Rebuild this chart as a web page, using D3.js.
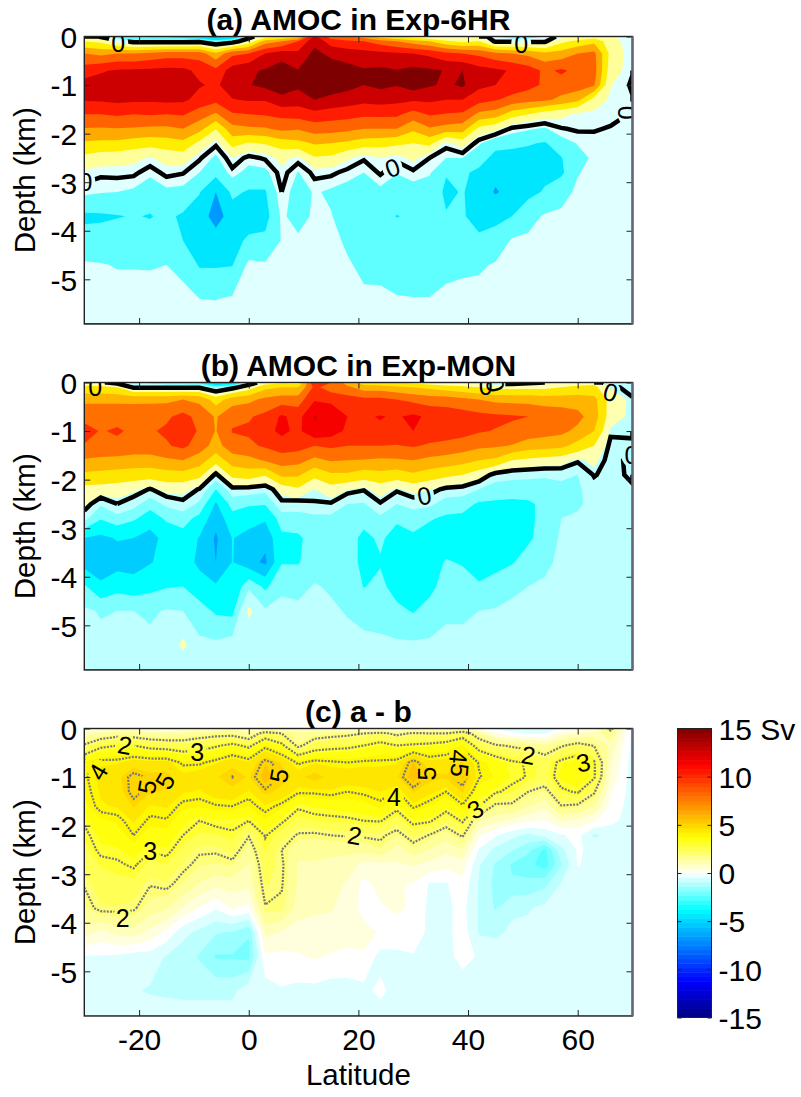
<!DOCTYPE html>
<html>
<head>
<meta charset="utf-8">
<script src="https://cdn.jsdelivr.net/npm/d3@7"></script>
<style>
  html, body { margin: 0; padding: 0; background: #fff; }
  text { font-family: "Liberation Sans", Arial, sans-serif; fill: #000; }
</style>
</head>
<body>
<div id="chart"></div>
<script>
// grid of the overturning streamfunction, one inner array per latitude column
var lats = [-30,-27,-24,-21,-18,-15,-12,-9,-6,-3,0,3,6,9,12,15,18,21,24,27,30,33,36,39,42,45,48,51,54,57,60,63,66,70];
var depths = [0,0.1,0.35,0.7,1,1.3,1.6,1.9,2.2,2.5,2.8,3.2,3.7,4.2,4.7,5.4,5.9];

var amoc6hr = [
  [2,3,7,10,11.8,11.2,9,6.9,4.7,2.5,.7,-.6,-3.4,-2.2,-.8,-.3,-.1],
  [-.3,2.5,6.5,10.8,11.8,11.3,9,6.8,4.5,2,.3,-.9,-3.3,-2.2,-.9,-.4,-.1],
  [-2,.5,7,11.2,12,11.5,9.3,6.9,4.5,1.8,.4,-1,-3.1,-2.1,-1.1,-.4,-.1],
  [-3,-.6,7,11.3,12.2,11.4,9,6.8,4,1.5,.3,-1.3,-2.9,-2,-1.1,-.4,-.1],
  [-3.5,-.6,7.5,11.4,12,11.3,9.2,6.6,3.8,.8,-.6,-2.2,-3.1,-2.2,-1.1,-.5,-.2],
  [-3.5,-.6,8,11.6,12.2,11.5,9,6.6,4,1.7,.4,-1.4,-2.6,-1.9,-1,-.5,-.2],
  [-4,-.6,8,11.5,12.1,11.4,9.2,7,4.4,2,.1,-1.5,-3.3,-3,-1.5,-.5,-.3],
  [-5,-.4,8,10.5,11.2,10.3,8,5.7,2.5,.2,-1,-2.9,-3.8,-3.6,-3.2,-1,-.3],
  [-6,-2,5.5,9.5,10.6,9.6,6.7,3.1,.3,-1.4,-2.4,-5,-6,-3.9,-3.2,-1.05,-.4],
  [-5,-1,8.5,12,12.3,10.9,8.8,6.3,3.8,.9,-.4,-2.6,-3.9,-3.6,-3.1,-.8,-.3],
  [-1,1.5,9,12.7,12.9,11.2,9,6.7,2.8,-.4,-1.6,-3.2,-3.9,-2.7,-.6,-.2,-.1],
  [2,6,11,13.2,13.5,11.2,9.2,6.8,3.2,.2,-1.5,-3.2,-3.8,-2.5,-.8,-.3,-.1],
  [3,7,12,14.1,14.2,12.4,9.6,7.5,4,1.5,.6,0,-.7,-.9,-.5,-.3,-.1],
  [4,9,11.5,13.1,13.4,12,9.8,7.2,4.4,.6,-1.1,-2,-1.7,-.7,-.4,-.2,-.1],
  [11.5,12.5,13.5,14.5,14.6,13,10.4,7.9,5.2,2.8,.4,-.8,-.7,-.5,-.3,-.2,-.1],
  [8,10,12.5,14.2,14.2,12.4,10,7.8,5,2.6,.3,-1.3,-.9,-.5,-.3,-.2,-.1],
  [7,9.5,12,13.8,13.7,12,9.8,7.5,4.6,1.3,-.4,-1.7,-1.9,-1.3,-.8,-.4,-.1],
  [6,9,11.7,13.2,13,11.6,9.4,7,4,.2,-1,-2.1,-2.3,-1.9,-1.4,-.7,-.2],
  [4,8,11.5,13.4,13.5,11.8,9.5,7,3.8,1,.2,-1.5,-2.5,-2.1,-1.6,-.6,-.2],
  [3,7,11.3,13.1,13.1,11.6,9.4,7,3.5,.3,-.9,-2.2,-3.05,-2.3,-1.8,-.9,-.3],
  [2,6,11,13.5,14,11.3,8.2,5.4,3,1.5,-.3,-1.8,-2.8,-2.4,-1.9,-.95,-.3],
  [1,5,10.5,13.3,13.2,11.4,9.2,6.8,3.6,0,-.8,-2,-2.7,-2.3,-1.9,-.95,-.3],
  [0,3.5,9.5,12.9,12.7,11,8.9,6.3,.5,-1,-2.9,-3.3,-2.9,-2.1,-1.5,-.6,-.2],
  [.5,2.5,9,13,13.3,11,8.7,5.9,2,-1,-2.7,-2.9,-2.9,-2.1,-1.4,-.4,-.2],
  [1,3,8.5,11.8,11.5,9.8,6.5,2.5,-.8,-2.2,-3.4,-3.7,-3.4,-2.8,-1.3,-.3,-.2],
  [-1,-.3,7.5,11.4,11,9.2,6,1.5,-2.4,-3.6,-4.4,-5.2,-3.4,-2.4,-.8,-.4,-.2],
  [-1.5,-.3,7,10.8,10.3,8.3,4,-.3,-2.5,-3.8,-4.3,-4.3,-3,-.8,-.5,-.3,-.1],
  [-1.5,-.3,6.5,10,9.6,7.8,3,-.8,-2.8,-3.9,-4,-3.6,-1.6,-.7,-.4,-.2,-.1],
  [-1,-.3,5.5,8.6,8.7,7.4,2,-1.2,-3.2,-3.8,-3.5,-2.8,-.8,-.5,-.3,-.2,-.1],
  [.5,2.5,5.8,9.3,8.2,6.5,1.5,-.1,-1.8,-3.1,-3.4,-1.6,-.7,-.4,-.2,-.1,-.1],
  [1.5,3.5,7,8.5,8,5.5,.7,.2,-.9,-1.6,-1.1,-.7,-.4,-.3,-.2,-.1,-.1],
  [2,4.5,7.5,7.8,7.2,2.2,.6,.1,-.4,-.7,-.5,-.4,-.3,-.2,-.1,-.1,-.1],
  [1.2,1.8,2.4,2,1.1,.7,.4,-.1,-.2,-.3,-.3,-.2,-.2,-.1,-.1,-.1,-.1],
  [.1,.1,.1,.1,-.2,.1,-.1,.3,-.2,-.1,-.1,-.1,-.1,-.1,-.1,-.1,-.1]
];

var amocMon = [
  [1,2.5,5.5,7.5,8.6,7.9,5.8,3.6,1.4,.7,-.8,-4,-4.6,-2.3,-1,-.9,-.8],
  [.3,2.5,5.5,7.5,7.9,7.4,5.6,3.4,1.3,-1,-2.4,-4.3,-4.9,-3.7,-1.3,-.9,-.8],
  [-.5,2,5.5,7.5,8.2,7.6,5.4,3.2,1.1,0,-1.7,-3.9,-4.6,-3,-1.2,-.9,-.8],
  [-1,-.2,5.5,7.4,7.7,7.2,5.2,3,.7,-.7,-2.3,-4,-4.7,-3.3,-1.2,-.9,-.8],
  [-1.5,-.2,5.5,7.5,7.8,7.2,5.2,2.9,-.1,-2,-3.2,-4.6,-4.1,-2.9,-1.4,-.9,-.8],
  [-2,-.2,5.5,7.7,8.3,7.8,5.7,3.2,.9,-.9,-2.3,-3.4,-3.5,-2.6,-1.1,-.9,-.8],
  [-2,-.2,6,8.6,9,8.5,6,3.3,.8,-.3,-2,-3,-3.1,-2.5,-1.2,.8,-.8],
  [-3,-.2,5.5,7.4,7.8,7,5,2.6,-.1,-1.5,-2.9,-4.1,-4.4,-3.2,-2,-.9,-.8],
  [-6,-1.5,3,5.8,5.9,5.2,2.8,-.3,-2.5,-4.2,-5,-5.7,-5.5,-3.8,-2.7,-.95,-.8],
  [-5,-.5,5,7.6,8.1,7.2,5,2.6,-.4,-2,-3,-3.95,-3.95,-3.8,-2.9,-.6,-.8],
  [-1,1,5.5,7.8,8.3,7.6,5.4,3,-.5,-2.3,-3.5,-4.4,-4.9,-1.5,.8,-.9,-.8],
  [1,3.5,6.5,8.5,9.3,8.3,6.2,2.2,-.8,-2.4,-3.8,-5,-5.8,-2.8,-1,-.9,-.8],
  [1.5,4,7,10.3,10.5,9,7,4.5,.9,-.3,-1.9,-2.8,-2.6,-1.4,-.9,-.9,-.8],
  [1,4,7,9.3,9.5,8.8,6.7,4.3,1.7,-.5,-1.8,-2.7,-2.6,-1.6,-.9,-.8,-.7],
  [10.2,8.5,9.8,12.1,11.8,8,5.5,2.5,.4,-.1,-1.6,-2,-1.8,-1.1,-.8,-.8,-.7],
  [8,7,9.5,11.5,11,8.4,6.2,3.7,1.2,-.1,-1.6,-2,-1.9,-1.35,-1,-.8,-.7],
  [5,6.5,8.8,10,9.6,8,6,3.7,.5,-1.2,-1.8,-2,-2,-1.7,-1.3,-.8,-.7],
  [3,5,8.5,9.8,9.6,8,5.9,3,.1,-1.3,-2.1,-2.8,-2.8,-2.55,-1.6,-.9,-.7],
  [2.5,5,8.5,10.1,9.7,8,5.7,3.4,1,-.1,-1.5,-2.3,-2.6,-2.2,-1.8,-.9,-.7],
  [2,4.5,8,9.8,9.5,7.9,5.8,3,.2,-1.2,-2.3,-3,-3.1,-3,-2.2,-1,-.7],
  [1.5,4,7.5,10.4,10,8.2,6,3.7,.9,-.7,-2,-2.7,-3.1,-3.1,-2.6,-1,-.7],
  [1,3.5,7,9.6,9.3,7.7,5.5,3,.5,-.9,-2.4,-3,-3,-2.9,-2,-1,-.7],
  [.5,3,7,9.3,9.1,7.4,5.2,2.5,-.3,-1.9,-2.7,-3.1,-2.4,-1.9,-1.4,-.9,-.7],
  [.2,2.5,6.5,9,8.8,7,4.8,2,-.5,-2,-2.8,-3,-2.6,-2,-1.4,-.9,-.7],
  [0,2,6,8.6,8.2,6.5,4,1,-1.2,-2.7,-3,-3,-2.9,-2.4,-1.2,-.9,-.7],
  [-.8,1.5,5.5,8.4,7.9,6.3,3.6,-.5,-1.9,-2.7,-3,-3,-2.9,-2,-1.1,-.9,-.7],
  [-.6,1.5,5.4,8.2,7.6,5.9,2,-.8,-1.9,-2.8,-3,-3,-2.6,-1.5,-.9,-.8,-.7],
  [-.3,1.5,5.3,8,7.2,5,1.6,-.9,-1.9,-2.7,-2.7,-2.7,-2,-1.2,-.9,-.8,-.7],
  [0,1.5,5,7.5,6.8,4.8,1.3,-1,-1.9,-2.2,-2.2,-2,-1.5,-1,-.8,-.8,-.7],
  [.5,2,5,7.2,6.5,4.5,1,-.8,-1.7,-1.9,-1.2,-1,-.9,-.8,-.8,-.8,-.7],
  [1,2.5,5,6.6,5.5,3.3,.2,-1.2,-1.4,-1.4,-1,-.9,-.8,-.8,-.8,-.8,-.7],
  [1.5,2.5,4.6,5,4,2,.7,.1,-.6,-.8,-.8,-.8,-.8,-.8,-.8,-.8,-.7],
  [-1.5,.3,1.2,1,.2,-.3,-.4,-.5,-.7,-.8,-.8,-.8,-.8,-.8,-.8,-.8,-.7],
  [-1.5,-.4,.1,.1,.1,-.1,.3,.3,-.2,-.7,-.8,-.8,-.8,-.8,-.8,-.8,-.7]
];

var amocDiff = [
  [.3,1,2.1,3.8,3.9,3.8,3.6,3.1,2.8,2.6,2.4,2.05,1.7,1,-.3,-.5,-.5],
  [.4,1.3,2.8,4.2,4.4,4.3,4.2,3.7,3.4,3.15,2.8,2.5,2.2,.6,-.3,-.6,-.5],
  [.5,1.6,3,4.2,4.6,4.5,4.3,3.8,3.5,3.2,2.9,2.6,2.2,.9,-.35,-.6,-.5],
  [.4,1.5,3,4.5,5.2,5.2,4.8,4.3,4,3.5,3.1,2.6,2.1,1,-.5,-.7,-.5],
  [.4,1.3,2.7,4.4,4.9,4.8,4.2,3.9,3.5,3.05,2.6,2.05,1.5,.6,-.5,-.8,-.5],
  [.4,1.2,2.6,4.4,4.95,4.7,4.3,3.95,3.6,3.2,2.75,2.2,1.3,.1,-.8,-.85,-.5],
  [.5,1.3,2.5,3.9,4.4,4.3,3.85,3.4,3,2.6,2.2,1.7,.7,-.6,-1,-.9,-.5],
  [.6,1.6,2.6,3.9,4.6,4.2,3.8,3,2.7,2.1,1.8,1.2,.2,-.9,-1.3,-.9,-.5],
  [.7,1.7,2.9,4.2,4.7,4.5,3.95,3.2,2.7,2.1,1.7,.9,-.2,-1.2,-1.8,-.9,-.5],
  [1.2,1.7,3.2,4.6,5.02,4.6,4,3.2,2.9,2.4,1.8,1,.3,-1.3,-1.8,-.9,-.5],
  [.5,1.3,2.8,4.3,4.7,4.2,3.8,3,2.05,1.5,1.2,.9,.1,-1.7,-1.9,-.4,-.5],
  [.8,2.4,3.8,5.2,5.5,4.9,4.2,3.7,3.05,2.8,2.5,2.3,1.95,.9,.15,-.5,-.5],
  [.7,2,3.2,4.7,4.95,4.6,3.85,3.1,2.5,2,2.1,2.05,1.9,.7,.1,-.3,-.5],
  [.6,1.5,1.8,3.9,4.6,4.1,3.1,2.6,1.9,1.4,1.2,1.2,1,.5,.2,-.4,-.5],
  [.5,1.6,2.5,4.2,4.98,4.1,3.3,2.75,1.85,1.4,1.2,1.1,.9,.4,.3,-.4,-.5],
  [.4,1.7,2.7,4.1,4.6,4.2,3.4,2.8,2,1.4,1.1,.9,.8,.5,.2,-.5,-.5],
  [.4,1.8,2.8,4,4.6,4,3.5,2.85,2.05,1.4,1,.7,.5,.4,.15,-.5,-.5],
  [.5,2,3,4.1,4.6,4.1,3.6,3,2.1,1.4,.6,.1,.1,.4,.2,-.4,-.5],
  [.6,2.2,3.3,4.1,4.6,4.25,3.85,3.05,2.15,1.7,.6,.4,.2,.2,-.45,-.1,-.5],
  [.5,1.8,3,4.2,4.7,3.95,3.2,2.5,1.7,1,.7,.3,.3,.1,-.4,-.5,-.5],
  [.7,2.1,3.1,5.3,5.5,4.8,4.1,3.2,2.4,1.6,.8,.2,.2,.1,-.3,-.5,-.5],
  [.8,2,3.2,4.4,4.9,4.4,3.75,3.1,1.95,1.2,.6,-.3,-.4,-.4,-.4,-.5,-.5],
  [.7,2,3.4,4.5,4.8,4,3.35,2.4,1.5,.9,.4,-.3,-.35,-.4,-.4,-.5,-.5],
  [1,2.5,3.8,4.8,5.3,4.8,3.9,3.1,2.1,1.2,.5,.1,-.1,0,-.1,-.5,-.5],
  [.1,1.5,2.6,3.95,4.05,3.5,3,1.3,.3,-.3,-.7,-.8,-.8,-.8,-.3,-.5,-.5],
  [-.3,.3,2.1,3.5,3.7,3.1,1.8,.9,-.2,-.9,-1.3,-1.4,-1.3,-.8,-.6,-.5,-.5],
  [-.6,-.1,1.9,3.1,3.2,2.8,1.8,.6,-.6,-1.2,-1.8,-1.7,-.8,-.7,-.5,-.5,-.5],
  [-.8,-.3,1.7,2.95,2.95,2,1.3,.3,-.9,-1.6,-2.1,-1.6,-.8,-.6,-.5,-.5,-.5],
  [-.8,-.3,1.4,2.5,2.5,1.7,.9,.2,-.6,-2.4,-2.5,-1.4,-.6,-.5,-.5,-.5,-.5],
  [-.2,.5,1.9,3.2,3.4,2.85,1.95,.8,-.3,-.9,-1.3,-.7,-.5,-.5,-.5,-.5,-.5],
  [0,.8,2.3,3.5,3.6,3.1,1.85,.6,-.1,-.2,-.2,-.5,-.5,-.5,-.5,-.5,-.5],
  [.3,1,1.95,3.1,3.1,2.1,1.3,.3,-.85,-.35,-.5,-.5,-.5,-.5,-.5,-.5,-.5],
  [2.3,1.6,1.1,.8,.6,.3,.1,-.1,-.6,-.4,-.5,-.5,-.5,-.5,-.5,-.5,-.5],
  [-.4,-.4,-.4,-.5,-.5,-.5,-.5,-.5,-.5,-.5,-.5,-.5,-.5,-.5,-.5,-.5,-.5]
];

// filled levels of each panel and the value each band takes its colour from
var levels6hr = [-7,-5,-3,-1,1,3,5,7,9,11,13];
var bandValues6hr = [-8,-6.75,-4.5,-2.35,-.46,1.5,4.25,6.25,8.3,10.4,12.75,15];
var levelsMon = [-5.5,-4,-2.5,-1.2,.4,2,4,6,8,10,12];
var bandValuesMon = [-6.75,-5.25,-3.75,-1.9,-.95,1.16,4.5,5.96,7.96,9.87,11.5,12.75];
var levelsDiff = d3.range(-2.75, 6.5, 0.5);
var bandValuesDiff = [-3].concat(levelsDiff.map(function(d) { return d + 0.25; }));

// contour labels: lat, depth, rotation, text
var labels6hr = [[-23.8,.14,0,"0"],[49.7,.15,0,"0"],[26.2,2.7,-20,"0"],[-29.8,3,0,"0"],[69,1.57,90,"0"]];
var labelsMon = [[-28,.1,0,"0"],[43.2,.08,0,"0"],[45,.05,75,"0"],[66,.2,15,"0"],[32,2.33,-10,"0"],[69.8,1.5,0,"0"]];
var labelsDiff = [
  [-22.6,.34,10,"2"],[-27.5,.89,-60,"4"],[-18.6,1.2,-80,"5"],[-15.3,1.08,-60,"5"],[-9.4,.48,0,"3"],
  [5.5,.97,-80,"5"],[32.5,.93,-90,"5"],[26.5,1.42,0,"4"],[38.3,.58,95,"4"],[38.5,.86,95,"5"],
  [41.3,1.66,-30,"3"],[51,.55,10,"2"],[61,.7,-10,"3"],[19.3,2.2,10,"2"],[-18,2.52,0,"3"],[-23,3.9,0,"2"]
];

var colorbarTicks = [-15,-10,-5,0,5,10,15];
var latTicks = [-20,0,20,40,60];
var depthTicks = [0,-1,-2,-3,-4,-5];

var width = 801, height = 1097;
var left = 84.3, right = 632.5, plotHeight = 287.5;
var panelTops = [36.5, 382.5, 728.5];
var titleBase = [30, 376, 722];

var jet = d3.scaleLinear()
    .domain([-15,-11.25,-3.75,0,3.75,11.25,15])
    .range(["#00007f","#0000ff","#00ffff","#ffffff","#ffff00","#ff0000","#7f0000"])
    .clamp(true);

var svg = d3.select("#chart").append("svg")
    .attr("width", width)
    .attr("height", height)
    .style("display", "block");

// the reference is a slightly soft bitmap
svg.append("filter").attr("id", "soft")
    .attr("x", "-2%").attr("y", "-2%").attr("width", "104%").attr("height", "104%")
    .append("feGaussianBlur").attr("stdDeviation", 0.6);

var x = d3.scaleLinear().domain([-30, 70]).range([left, right]);
var colToLat = d3.scaleLinear().domain(d3.range(lats.length)).range(lats).clamp(true);
var rowToDepth = d3.scaleLinear().domain(d3.range(depths.length)).range(depths).clamp(true);

function flatten(columns) {
    var out = [];
    depths.forEach(function(d, j) {
        lats.forEach(function(l, i) { out.push(columns[i][j]); });
    });
    return out;
}

function drawPanel(id, top, columns, levels, bandValues, labels, lineLevels, lineStyle, title, base, showX) {
    var y = d3.scaleLinear().domain([0, 5.92]).range([top, top + plotHeight]);
    var values = flatten(columns);
    var nx = lats.length, ny = depths.length;
    var contours = d3.contours().size([nx, ny]);

    function mapX(v) { return x(colToLat(v - 0.5)); }
    function mapY(v) { return y(rowToDepth(v - 0.5)); }

    var path = d3.geoPath().projection(d3.geoTransform({
        point: function(a, b) { this.stream.point(mapX(a), mapY(b)); }
    }));

    var g = svg.append("g");
    g.append("clipPath").attr("id", "clip-" + id).append("rect")
        .attr("x", left).attr("y", top)
        .attr("width", right - left).attr("height", plotHeight);

    var plot = g.append("g").attr("clip-path", "url(#clip-" + id + ")");
    var bands = plot.append("g").attr("filter", "url(#soft)");
    bands.append("rect")
        .attr("x", left).attr("y", top)
        .attr("width", right - left).attr("height", plotHeight)
        .attr("fill", jet(bandValues[0]));

    bands.selectAll("path.band").data(levels).enter().append("path")
        .attr("class", "band")
        .attr("d", function(t) { return path(contours.contour(values, t)); })
        .attr("fill", function(t, i) { return jet(bandValues[i + 1]); });

    // lines leave a gap round each label
    var mask = g.append("mask").attr("id", "mask-" + id)
        .attr("maskUnits", "userSpaceOnUse")
        .attr("x", 0).attr("y", 0).attr("width", width).attr("height", height);
    mask.append("rect").attr("width", width).attr("height", height).attr("fill", "#fff");
    mask.selectAll("ellipse").data(labels).enter().append("ellipse")
        .attr("cx", function(d) { return x(d[0]); })
        .attr("cy", function(d) { return y(d[1]); })
        .attr("rx", 10).attr("ry", 12)
        .attr("fill", "#000");

    var lineG = plot.append("g").attr("mask", "url(#mask-" + id + ")");
    lineLevels.forEach(function(t) {
        var c = contours.contour(values, t);
        var s = "";
        c.coordinates.forEach(function(poly) {
            poly.forEach(function(ring) {
                if (ring.length <= lineStyle.minRing) return;
                var pen = false;
                ring.forEach(function(p, i) {
                    if (i > 0) {
                        var q = ring[i - 1];
                        var edge = (p[0] === 0 && q[0] === 0) || (p[0] === nx && q[0] === nx) ||
                                   (p[1] === 0 && q[1] === 0) || (p[1] === ny && q[1] === ny);
                        if (edge) { pen = false; return; }
                    }
                    s += (pen ? "L" : "M") + mapX(p[0]) + "," + mapY(p[1]);
                    pen = true;
                });
            });
        });
        lineG.append("path")
            .attr("d", s)
            .attr("fill", "none")
            .attr("stroke", lineStyle.color)
            .attr("stroke-width", lineStyle.width)
            .attr("stroke-dasharray", lineStyle.dash)
            .attr("stroke-linejoin", "miter");
    });

    plot.selectAll("text.clabel").data(labels).enter().append("text")
        .attr("class", "clabel")
        .attr("transform", function(d) {
            return "translate(" + x(d[0]) + "," + y(d[1]) + ") rotate(" + d[2] + ")";
        })
        .attr("text-anchor", "middle")
        .attr("dy", "0.36em")
        .style("font-size", "25px")
        .text(function(d) { return d[3]; });

    // box and ticks, inside on all four sides
    var tickSize = 6;
    var yAxis = d3.scaleLinear().domain([0, -5.92]).range([top, top + plotHeight]);
    function styleAxis(a) {
        a.select(".domain").remove();
        a.selectAll("line").attr("stroke", "#222").attr("stroke-width", 1);
    }
    g.append("g").attr("transform", "translate(" + left + ",0)")
        .call(d3.axisLeft(yAxis).tickValues(depthTicks).tickSizeInner(-tickSize).tickPadding(7).tickFormat(String))
        .call(styleAxis)
        .selectAll("text").style("font-size", "30px").attr("dy", "0.36em");
    g.append("g").attr("transform", "translate(" + right + ",0)")
        .call(d3.axisRight(yAxis).tickValues(depthTicks).tickSizeInner(-tickSize).tickFormat(""))
        .call(styleAxis);
    g.append("g").attr("transform", "translate(0," + top + ")")
        .call(d3.axisTop(x).tickValues(latTicks).tickSizeInner(-tickSize).tickFormat(""))
        .call(styleAxis);
    var bottom = g.append("g").attr("transform", "translate(0," + (top + plotHeight) + ")")
        .call(d3.axisBottom(x).tickValues(latTicks).tickSizeInner(-tickSize).tickPadding(12.5)
            .tickFormat(showX ? String : ""))
        .call(styleAxis);
    bottom.selectAll("text").style("font-size", "30px").attr("dy", "0.72em");

    g.append("rect")
        .attr("x", left).attr("y", top)
        .attr("width", right - left).attr("height", plotHeight)
        .attr("fill", "none").attr("stroke", "#222").attr("stroke-width", 1.4);
    g.append("line")
        .attr("x1", right).attr("x2", right)
        .attr("y1", top).attr("y2", top + plotHeight)
        .attr("stroke", "#667").attr("stroke-width", 2.5);

    g.append("text")
        .attr("x", (left + right) / 2).attr("y", base)
        .attr("text-anchor", "middle")
        .style("font-size", "30px").style("font-weight", "bold")
        .text(title);

    g.append("text")
        .attr("transform", "translate(35," + (top + plotHeight / 2) + ") rotate(-90)")
        .attr("text-anchor", "middle")
        .style("font-size", "29.5px")
        .text("Depth (km)");
}

var zeroLine = {color: "#000", width: 4.5, dash: null, minRing: 5};
var dottedLine = {color: "#777", width: 2.2, dash: "2,1.3", minRing: 0};

drawPanel("a", panelTops[0], amoc6hr, levels6hr, bandValues6hr, labels6hr, [0], zeroLine, "(a) AMOC in Exp-6HR", titleBase[0], false);
drawPanel("b", panelTops[1], amocMon, levelsMon, bandValuesMon, labelsMon, [0], zeroLine, "(b) AMOC in Exp-MON", titleBase[1], false);
drawPanel("c", panelTops[2], amocDiff, levelsDiff, bandValuesDiff, labelsDiff, [2,3,4,5], dottedLine, "(c) a - b", titleBase[2], true);

svg.append("text")
    .attr("x", (left + right) / 2).attr("y", 1085)
    .attr("text-anchor", "middle")
    .style("font-size", "29.5px")
    .text("Latitude");

// colorbar
var cbX = 677.5, cbW = 34, cbTop = 728.5, cbBottom = 1017.5;
var cbY = d3.scaleLinear().domain([-15, 15]).range([cbBottom, cbTop]);
var cbSteps = d3.range(64);
svg.append("g").selectAll("rect").data(cbSteps).enter().append("rect")
    .attr("x", cbX)
    .attr("width", cbW)
    .attr("y", function(i) { return cbY(-15 + (i + 1) * 30 / 64); })
    .attr("height", (cbBottom - cbTop) / 64 + 0.5)
    .attr("fill", function(i) { return jet(-15 + (i + 0.5) * 30 / 64); });

var cbG = svg.append("g").attr("transform", "translate(" + (cbX + cbW) + ",0)")
    .call(d3.axisRight(cbY).tickValues(colorbarTicks).tickSizeInner(-4).tickPadding(7)
        .tickFormat(function(d) { return d === 15 ? "15 Sv" : String(d); }));
cbG.select(".domain").remove();
cbG.selectAll("text").style("font-size", "30px").attr("dy", "0.36em");
cbG.selectAll("line").attr("stroke", "#222");
var cbL = svg.append("g").attr("transform", "translate(" + cbX + ",0)")
    .call(d3.axisLeft(cbY).tickValues(colorbarTicks).tickSizeInner(-4).tickFormat(""));
cbL.select(".domain").remove();
cbL.selectAll("line").attr("stroke", "#222");
svg.append("rect")
    .attr("x", cbX).attr("y", cbTop)
    .attr("width", cbW).attr("height", cbBottom - cbTop)
    .attr("fill", "none").attr("stroke", "#222").attr("stroke-width", 1);
</script>
</body>
</html>
